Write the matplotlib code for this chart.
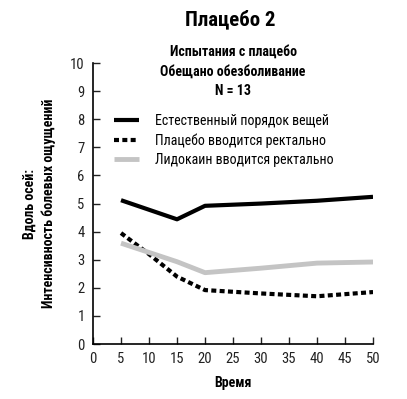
import matplotlib
matplotlib.use("Agg")
from matplotlib import pyplot as plt

plt.rcParams["font.family"] = ["Roboto Condensed", "DejaVu Sans"]

time_natural = [5, 15, 20, 30, 40, 50]
pain_natural = [5.12, 4.44, 4.92, 5.0, 5.1, 5.24]

time_placebo = [5, 10, 15, 20, 30, 40, 50]
pain_placebo = [3.95, 3.2, 2.4, 1.92, 1.8, 1.7, 1.85]

time_lido = [5, 15, 20, 30, 40, 50]
pain_lido = [3.59, 2.93, 2.54, 2.7, 2.88, 2.92]

labels = ["Естественный порядок вещей",
          "Плацебо вводится ректально",
          "Лидокаин вводится ректально"]

fig = plt.figure(figsize=(4.07, 3.99), dpi=100)
ax = fig.add_axes([0.2285, 0.1378, 0.688, 0.704])

ax.plot(time_natural, pain_natural, color="black", lw=3, solid_capstyle="butt", label=labels[0])
ax.plot(time_placebo, pain_placebo, color="black", lw=3, ls=(0, (1.2, 0.8)), label=labels[1])
ax.plot(time_lido, pain_lido, color="#c4c4c4", lw=3.5, solid_capstyle="butt", label=labels[2])

ax.set_xlim(0, 50)
ax.set_ylim(0, 10)
ax.set_xticks(range(0, 51, 5))
ax.set_yticks(range(0, 11))
ax.tick_params(direction="in", length=5, width=1, labelsize=10.5, colors="#222222", pad=6)
for s in ["top", "right"]:
    ax.spines[s].set_visible(False)
for s in ["left", "bottom"]:
    ax.spines[s].set_linewidth(1.2)

ax.set_xlabel("Время", fontsize=10, fontweight="bold", labelpad=7)
ax.set_ylabel("Вдоль осей:\nИнтенсивность болевых ощущений", fontsize=10,
              fontweight="bold", labelpad=10, linespacing=1.45)

fig.text(0.565, 0.952, "Плацебо 2", ha="center", va="center", fontsize=15, fontweight="bold")
ax.text(0.5, 0.97, "Испытания с плацебо\nОбещано обезболивание\nN = 13",
        transform=ax.transAxes, ha="center", va="center", fontsize=10,
        fontweight="bold", linespacing=1.5)

ax.legend(loc="upper left", bbox_to_anchor=(0.03, 0.865), frameon=False, fontsize=10,
          handlelength=1.8, handletextpad=1.15, labelspacing=0.4)

fig.savefig("out.png", dpi=100)
